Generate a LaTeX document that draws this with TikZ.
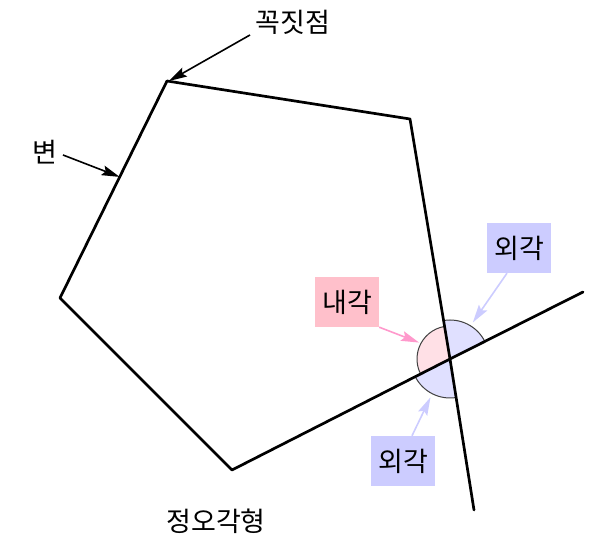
\documentclass[tikz,border=0pt]{standalone}
\usepackage{fontspec}
\newfontfamily\kor{Noto Sans CJK KR}
\usetikzlibrary{arrows.meta,angles,calc}
\definecolor{innerbox}{HTML}{FFC0CB}
\definecolor{innerfill}{HTML}{FFE0E6}
\definecolor{innerarrow}{HTML}{FF99CC}
\definecolor{outerbox}{HTML}{CCCCFF}
\definecolor{outerfill}{HTML}{E0E0FF}
\begin{document}
\begin{tikzpicture}[x=1pt, y=1pt,
    side/.style={line width=2.7pt, line cap=round, line join=round},
    label node/.style={font=\kor\fontsize{27}{31}\selectfont, inner sep=0pt},
    angle box/.style={label node, minimum width=64pt, minimum height=50pt},
    pointer/.style={-{Stealth[length=18pt, width=10pt, inset=3pt]}, line width=1.6pt},
    angle mark/.style={draw=black!75, line width=1pt}]
  \useasboundingbox (0,0) rectangle (600,559);

  % pentagon vertices and the two extended sides
  \coordinate (A) at (167,478);
  \coordinate (B) at (410,440);
  \coordinate (C) at (450,200);
  \coordinate (D) at (232,89);
  \coordinate (E) at (60,261);
  \coordinate (F) at (474,49);
  \coordinate (G) at (583,267);

  \pic[angle mark, fill=outerfill, angle radius=39pt] {angle = G--C--B};
  \pic[angle mark, fill=innerfill, angle radius=33pt] {angle = B--C--D};
  \pic[angle mark, fill=outerfill, angle radius=39pt] {angle = D--C--F};

  \draw[side] (F) -- (C) -- (B) -- (A) -- (E) -- (D) -- (C) -- (G);

  \node[label node] (vertex) at (293,537) {꼭짓점};
  \node[label node] (edge) at (45,407) {변};
  \node[label node] (name) at (216,38) {정오각형};
  \node[angle box, fill=innerbox] (inner) at (347,257) {내각};
  \node[angle box, fill=outerbox] (outer1) at (519,311) {외각};
  \node[angle box, fill=outerbox] (outer2) at (403,98) {외각};

  \coordinate (vertex tail) at (250,524);
  \coordinate (edge tail) at (63,404);
  \draw[pointer] (vertex tail) -- ([shift={(2pt,0pt)}]A);
  \draw[pointer] (edge tail) -- ($(A)!0.442!(E)$);
  \draw[pointer, innerarrow] (inner.south east) -- ($(C)+(152:35)$);
  \draw[pointer, outerbox] ([xshift=-12pt]outer1.south) -- ($(C)+(58:43)$);
  \draw[pointer, outerbox] ([xshift=9pt]outer2.north) -- ($(C)+(243:43)$);
\end{tikzpicture}
\end{document}
